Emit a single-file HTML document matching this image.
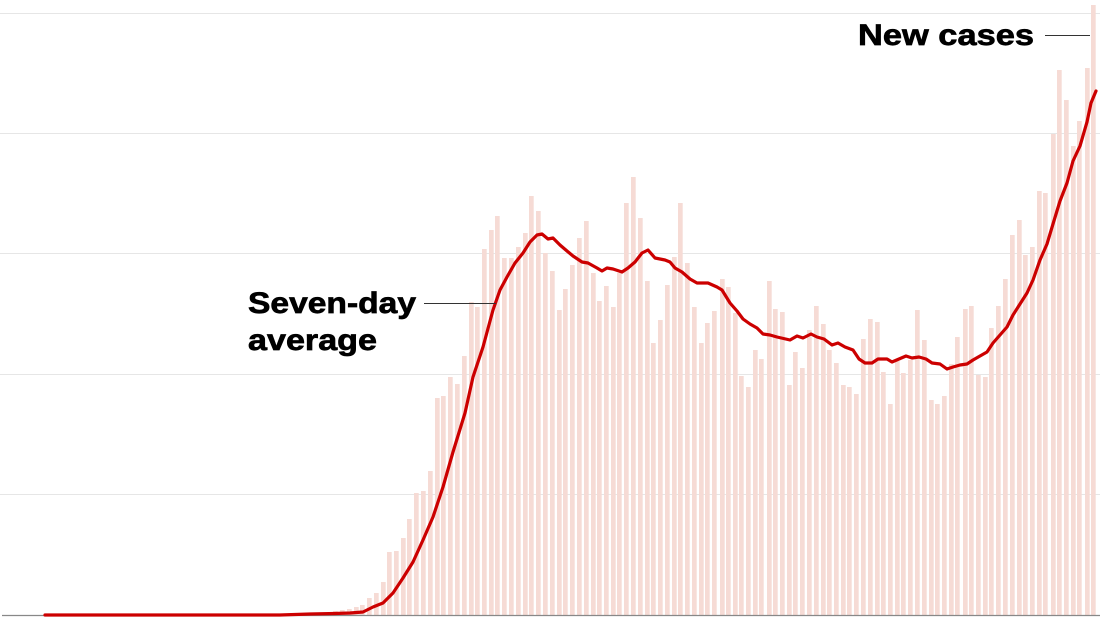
<!DOCTYPE html>
<html><head><meta charset="utf-8"><style>
html,body{margin:0;padding:0;background:#fff;}
svg{display:block;}
text{font-family:"Liberation Sans",sans-serif;font-weight:bold;fill:#000;stroke:#000;stroke-width:0.7;}
</style></head><body>
<svg width="1100" height="619" viewBox="0 0 1100 619" xmlns="http://www.w3.org/2000/svg">
<g stroke="#e6e6e6" stroke-width="1">
<line x1="0" y1="13.5" x2="1100" y2="13.5"/>
<line x1="0" y1="133.5" x2="1100" y2="133.5"/>
<line x1="0" y1="253.5" x2="1100" y2="253.5"/>
<line x1="0" y1="374.5" x2="1100" y2="374.5"/>
<line x1="0" y1="494.5" x2="1100" y2="494.5"/>
</g>
<g fill="#f6dbd5" id="bars">
<rect x="290" y="613" width="70" height="2"/>
<rect x="333" y="611" width="4.7" height="4"/><rect x="340" y="610" width="4.7" height="5"/><rect x="347" y="609" width="4.7" height="6"/><rect x="354" y="607" width="4.7" height="8"/>
<rect x="360" y="605" width="4.7" height="10"/>
<rect x="367" y="598" width="4.7" height="17"/><rect x="374" y="593" width="4.7" height="22"/><rect x="381" y="582" width="4.7" height="33"/><rect x="387" y="552" width="4.7" height="63"/><rect x="394" y="551" width="4.7" height="64"/><rect x="401" y="538" width="4.7" height="77"/><rect x="407" y="519" width="4.7" height="96"/><rect x="414" y="493" width="4.7" height="122"/><rect x="421" y="491" width="4.7" height="124"/><rect x="428" y="471" width="4.7" height="144"/><rect x="435" y="398" width="4.7" height="217"/><rect x="441" y="396" width="4.7" height="219"/><rect x="448" y="377" width="4.7" height="238"/><rect x="455" y="384" width="4.7" height="231"/><rect x="462" y="356" width="4.7" height="259"/><rect x="469" y="302" width="4.7" height="313"/><rect x="475" y="307" width="4.7" height="308"/><rect x="482" y="249" width="4.7" height="366"/><rect x="489" y="230" width="4.7" height="385"/><rect x="495" y="216" width="4.7" height="399"/><rect x="502" y="258" width="4.7" height="357"/>
<rect x="509" y="258" width="4.7" height="357"/><rect x="516" y="247" width="4.7" height="368"/><rect x="523" y="233" width="4.7" height="382"/><rect x="529" y="196" width="4.7" height="419"/><rect x="536" y="211" width="4.7" height="404"/><rect x="543" y="253" width="4.7" height="362"/><rect x="550" y="271" width="4.7" height="344"/><rect x="557" y="310" width="4.7" height="305"/><rect x="563" y="289" width="4.7" height="326"/><rect x="570" y="265" width="4.7" height="350"/><rect x="577" y="238" width="4.7" height="377"/><rect x="584" y="221" width="4.7" height="394"/><rect x="591" y="273" width="4.7" height="342"/><rect x="597" y="301" width="4.7" height="314"/><rect x="604" y="286" width="4.7" height="329"/><rect x="611" y="307" width="4.7" height="308"/><rect x="617" y="273" width="4.7" height="342"/><rect x="624" y="203" width="4.7" height="412"/><rect x="631" y="177" width="4.7" height="438"/><rect x="638" y="218" width="4.7" height="397"/><rect x="645" y="281" width="4.7" height="334"/><rect x="651" y="343" width="4.7" height="272"/><rect x="658" y="320" width="4.7" height="295"/><rect x="665" y="285" width="4.7" height="330"/><rect x="672" y="257" width="4.7" height="358"/><rect x="678" y="203" width="4.7" height="412"/><rect x="685" y="263" width="4.7" height="352"/><rect x="692" y="307" width="4.7" height="308"/><rect x="699" y="343" width="4.7" height="272"/><rect x="705" y="323" width="4.7" height="292"/><rect x="712" y="311" width="4.7" height="304"/>
<rect x="720" y="279" width="4.7" height="336"/><rect x="726" y="287" width="4.7" height="328"/><rect x="733" y="313" width="4.7" height="302"/><rect x="739" y="376" width="4.7" height="239"/><rect x="746" y="387" width="4.7" height="228"/><rect x="753" y="350" width="4.7" height="265"/><rect x="759" y="359" width="4.7" height="256"/><rect x="767" y="281" width="4.7" height="334"/><rect x="773" y="309" width="4.7" height="306"/><rect x="780" y="312" width="4.7" height="303"/><rect x="787" y="385" width="4.7" height="230"/><rect x="793" y="352" width="4.7" height="263"/><rect x="800" y="368" width="4.7" height="247"/><rect x="807" y="330" width="4.7" height="285"/><rect x="814" y="306" width="4.7" height="309"/><rect x="821" y="324" width="4.7" height="291"/><rect x="827" y="350" width="4.7" height="265"/><rect x="834" y="363" width="4.7" height="252"/><rect x="841" y="385" width="4.7" height="230"/><rect x="847" y="387" width="4.7" height="228"/><rect x="854" y="394" width="4.7" height="221"/><rect x="861" y="339" width="4.7" height="276"/><rect x="868" y="319" width="4.7" height="296"/><rect x="875" y="322" width="4.7" height="293"/><rect x="881" y="372" width="4.7" height="243"/><rect x="888" y="404" width="4.7" height="211"/><rect x="895" y="361" width="4.7" height="254"/><rect x="901" y="373" width="4.7" height="242"/><rect x="908" y="360" width="4.7" height="255"/><rect x="915" y="310" width="4.7" height="305"/><rect x="922" y="340" width="4.7" height="275"/><rect x="929" y="400" width="4.7" height="215"/><rect x="935" y="404" width="4.7" height="211"/><rect x="942" y="396" width="4.7" height="219"/><rect x="949" y="364" width="4.7" height="251"/><rect x="955" y="337" width="4.7" height="278"/><rect x="963" y="309" width="4.7" height="306"/><rect x="969" y="306" width="4.7" height="309"/><rect x="976" y="375" width="4.7" height="240"/><rect x="983" y="377" width="4.7" height="238"/><rect x="989" y="328" width="4.7" height="287"/><rect x="996" y="306" width="4.7" height="309"/><rect x="1003" y="279" width="4.7" height="336"/><rect x="1010" y="235" width="4.7" height="380"/><rect x="1017" y="220" width="4.7" height="395"/><rect x="1023" y="255" width="4.7" height="360"/><rect x="1030" y="247" width="4.7" height="368"/><rect x="1037" y="191" width="4.7" height="424"/><rect x="1043" y="193" width="4.7" height="422"/><rect x="1051" y="134" width="4.7" height="481"/><rect x="1057" y="70" width="4.7" height="545"/><rect x="1064" y="100" width="4.7" height="515"/><rect x="1071" y="146" width="4.7" height="469"/><rect x="1077" y="121" width="4.7" height="494"/><rect x="1085" y="68" width="4.7" height="547"/><rect x="1091" y="5" width="4.7" height="610"/>
</g>
<line x1="2" y1="615.5" x2="1100" y2="615.5" stroke="#888" stroke-width="1.2"/>
<polyline fill="none" stroke="#cc0000" stroke-width="3.2" stroke-linejoin="round" stroke-linecap="round"
points="45,615 280,615 310,614 335,613.5 350,613 363,612 373,607 383,603 393,593 403,578 413,562 423,540 433,517 443,487 453,452 465,413 473,377 483,347 493,310 500,290 507,277 515,263 523,253 530,242 537,235 542,234 548,239 553,238 560,245 567,251 573,256 582,262 588,263 597,268 602,271 607,268 613,269 622,272 628,268 635,262 642,253 648,250 655,258 665,260 670,262 675,268 682,272 690,279 697,283 708,283 717,287 722,290 730,303 737,311 743,319 750,324 757,328 763,334 770,335 777,337 790,340 797,336 803,338 811,334 817,337 824,339 832,345 838,343 845,347 853,350 859,359 865,363 872,363 878,359 887,359 892,362 899,359 906,356 912,358 919,357 926,359 932,363 940,364 947,369 953,367 960,365 967,364 973,360 987,352 993,343 1007,327 1013,315 1027,293 1033,280 1040,260 1047,244 1053,224 1060,201 1067,183 1073,161 1080,146 1087,122 1091,103 1096,91"/>
<text x="858" y="45" font-size="30" textLength="176" lengthAdjust="spacingAndGlyphs">New cases</text>
<line x1="1045" y1="35.5" x2="1090" y2="35.5" stroke="#333" stroke-width="1"/>
<text x="248" y="313" font-size="30" textLength="168" lengthAdjust="spacingAndGlyphs">Seven-day</text>
<text x="248" y="350" font-size="30" textLength="129" lengthAdjust="spacingAndGlyphs">average</text>
<line x1="424" y1="303.5" x2="496" y2="303.5" stroke="#333" stroke-width="1"/>
</svg>
</body></html>
